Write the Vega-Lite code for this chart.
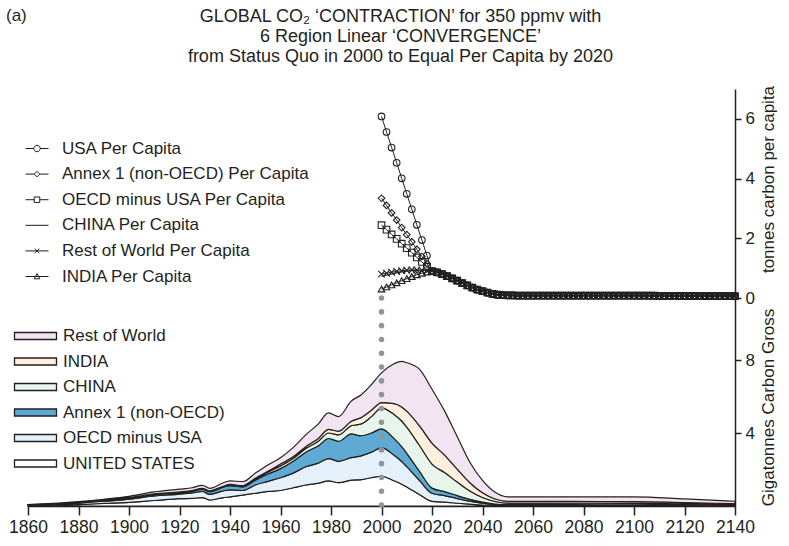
{
 "$schema": "https://vega.github.io/schema/vega-lite/v6.json",
 "autosize": {"type": "pad"},
 "padding": {"left": 6, "top": 7, "right": 5, "bottom": 5},
 "background": "white",
 "title": {"text": "(a)", "anchor": "start", "frame": "group", "font": "Liberation Sans", "fontSize": 17, "fontWeight": "normal", "color": "#231f20", "offset": 0, "dx": -22, "dy": 17},
 "datasets": {
  "pcn": [
   {"code": "USA", "label": "USA Per Capita"},
   {"code": "A1", "label": "Annex 1 (non-OECD) Per Capita"},
   {"code": "OECD", "label": "OECD minus USA Per Capita"},
   {"code": "CHN", "label": "CHINA Per Capita"},
   {"code": "ROW", "label": "Rest of World Per Capita"},
   {"code": "IND", "label": "INDIA Per Capita"}
  ],
  "grn": [
   {"code": "US", "label": "UNITED STATES", "rank": 1},
   {"code": "OECD", "label": "OECD minus USA", "rank": 2},
   {"code": "A1", "label": "Annex 1 (non-OECD)", "rank": 3},
   {"code": "CN", "label": "CHINA", "rank": 4},
   {"code": "IN", "label": "INDIA", "rank": 5},
   {"code": "RoW", "label": "Rest of World", "rank": 6}
  ],
  "pc": [
   {"year": 2000, "USA": 6.08, "A1": 3.34, "OECD": 2.44, "CHN": 0.72, "ROW": 0.80, "IND": 0.30},
   {"year": 2002, "USA": 5.56, "A1": 3.10, "OECD": 2.29, "CHN": 0.76, "ROW": 0.83, "IND": 0.37},
   {"year": 2004, "USA": 5.04, "A1": 2.85, "OECD": 2.13, "CHN": 0.80, "ROW": 0.86, "IND": 0.44},
   {"year": 2006, "USA": 4.53, "A1": 2.61, "OECD": 1.98, "CHN": 0.84, "ROW": 0.89, "IND": 0.51},
   {"year": 2008, "USA": 4.01, "A1": 2.36, "OECD": 1.82, "CHN": 0.87, "ROW": 0.91, "IND": 0.58},
   {"year": 2010, "USA": 3.49, "A1": 2.12, "OECD": 1.67, "CHN": 0.90, "ROW": 0.93, "IND": 0.65},
   {"year": 2012, "USA": 2.97, "A1": 1.88, "OECD": 1.52, "CHN": 0.92, "ROW": 0.94, "IND": 0.72},
   {"year": 2014, "USA": 2.45, "A1": 1.63, "OECD": 1.36, "CHN": 0.93, "ROW": 0.94, "IND": 0.78},
   {"year": 2016, "USA": 1.94, "A1": 1.39, "OECD": 1.21, "CHN": 0.93, "ROW": 0.93, "IND": 0.83},
   {"year": 2018, "USA": 1.42, "A1": 1.14, "OECD": 1.05, "CHN": 0.92, "ROW": 0.92, "IND": 0.87},
   {"year": 2020, "USA": 0.90, "A1": 0.90, "OECD": 0.90, "CHN": 0.90, "ROW": 0.90, "IND": 0.90},
   {"year": 2022, "USA": 0.86, "A1": 0.86, "OECD": 0.86, "CHN": 0.86, "ROW": 0.86, "IND": 0.86},
   {"year": 2024, "USA": 0.80, "A1": 0.80, "OECD": 0.80, "CHN": 0.80, "ROW": 0.80, "IND": 0.80},
   {"year": 2026, "USA": 0.73, "A1": 0.73, "OECD": 0.73, "CHN": 0.73, "ROW": 0.73, "IND": 0.73},
   {"year": 2028, "USA": 0.66, "A1": 0.66, "OECD": 0.66, "CHN": 0.66, "ROW": 0.66, "IND": 0.66},
   {"year": 2030, "USA": 0.58, "A1": 0.58, "OECD": 0.58, "CHN": 0.58, "ROW": 0.58, "IND": 0.58},
   {"year": 2032, "USA": 0.50, "A1": 0.50, "OECD": 0.50, "CHN": 0.50, "ROW": 0.50, "IND": 0.50},
   {"year": 2034, "USA": 0.42, "A1": 0.42, "OECD": 0.42, "CHN": 0.42, "ROW": 0.42, "IND": 0.42},
   {"year": 2036, "USA": 0.35, "A1": 0.35, "OECD": 0.35, "CHN": 0.35, "ROW": 0.35, "IND": 0.35},
   {"year": 2038, "USA": 0.28, "A1": 0.28, "OECD": 0.28, "CHN": 0.28, "ROW": 0.28, "IND": 0.28},
   {"year": 2040, "USA": 0.23, "A1": 0.23, "OECD": 0.23, "CHN": 0.23, "ROW": 0.23, "IND": 0.23},
   {"year": 2042, "USA": 0.18, "A1": 0.18, "OECD": 0.18, "CHN": 0.18, "ROW": 0.18, "IND": 0.18},
   {"year": 2044, "USA": 0.14, "A1": 0.14, "OECD": 0.14, "CHN": 0.14, "ROW": 0.14, "IND": 0.14},
   {"year": 2046, "USA": 0.11, "A1": 0.11, "OECD": 0.11, "CHN": 0.11, "ROW": 0.11, "IND": 0.11},
   {"year": 2048, "USA": 0.095, "A1": 0.095, "OECD": 0.095, "CHN": 0.095, "ROW": 0.095, "IND": 0.095},
   {"year": 2050, "USA": 0.09, "A1": 0.09, "OECD": 0.09, "CHN": 0.09, "ROW": 0.09, "IND": 0.09},
   {"year": 2052, "USA": 0.085, "A1": 0.085, "OECD": 0.085, "CHN": 0.085, "ROW": 0.085, "IND": 0.085},
   {"year": 2054, "USA": 0.08, "A1": 0.08, "OECD": 0.08, "CHN": 0.08, "ROW": 0.08, "IND": 0.08},
   {"year": 2056, "USA": 0.08, "A1": 0.08, "OECD": 0.08, "CHN": 0.08, "ROW": 0.08, "IND": 0.08},
   {"year": 2058, "USA": 0.08, "A1": 0.08, "OECD": 0.08, "CHN": 0.08, "ROW": 0.08, "IND": 0.08},
   {"year": 2060, "USA": 0.08, "A1": 0.08, "OECD": 0.08, "CHN": 0.08, "ROW": 0.08, "IND": 0.08},
   {"year": 2062, "USA": 0.08, "A1": 0.08, "OECD": 0.08, "CHN": 0.08, "ROW": 0.08, "IND": 0.08},
   {"year": 2064, "USA": 0.08, "A1": 0.08, "OECD": 0.08, "CHN": 0.08, "ROW": 0.08, "IND": 0.08},
   {"year": 2066, "USA": 0.08, "A1": 0.08, "OECD": 0.08, "CHN": 0.08, "ROW": 0.08, "IND": 0.08},
   {"year": 2068, "USA": 0.08, "A1": 0.08, "OECD": 0.08, "CHN": 0.08, "ROW": 0.08, "IND": 0.08},
   {"year": 2070, "USA": 0.08, "A1": 0.08, "OECD": 0.08, "CHN": 0.08, "ROW": 0.08, "IND": 0.08},
   {"year": 2072, "USA": 0.08, "A1": 0.08, "OECD": 0.08, "CHN": 0.08, "ROW": 0.08, "IND": 0.08},
   {"year": 2074, "USA": 0.08, "A1": 0.08, "OECD": 0.08, "CHN": 0.08, "ROW": 0.08, "IND": 0.08},
   {"year": 2076, "USA": 0.08, "A1": 0.08, "OECD": 0.08, "CHN": 0.08, "ROW": 0.08, "IND": 0.08},
   {"year": 2078, "USA": 0.08, "A1": 0.08, "OECD": 0.08, "CHN": 0.08, "ROW": 0.08, "IND": 0.08},
   {"year": 2080, "USA": 0.08, "A1": 0.08, "OECD": 0.08, "CHN": 0.08, "ROW": 0.08, "IND": 0.08},
   {"year": 2082, "USA": 0.08, "A1": 0.08, "OECD": 0.08, "CHN": 0.08, "ROW": 0.08, "IND": 0.08},
   {"year": 2084, "USA": 0.08, "A1": 0.08, "OECD": 0.08, "CHN": 0.08, "ROW": 0.08, "IND": 0.08},
   {"year": 2086, "USA": 0.08, "A1": 0.08, "OECD": 0.08, "CHN": 0.08, "ROW": 0.08, "IND": 0.08},
   {"year": 2088, "USA": 0.08, "A1": 0.08, "OECD": 0.08, "CHN": 0.08, "ROW": 0.08, "IND": 0.08},
   {"year": 2090, "USA": 0.08, "A1": 0.08, "OECD": 0.08, "CHN": 0.08, "ROW": 0.08, "IND": 0.08},
   {"year": 2092, "USA": 0.08, "A1": 0.08, "OECD": 0.08, "CHN": 0.08, "ROW": 0.08, "IND": 0.08},
   {"year": 2094, "USA": 0.08, "A1": 0.08, "OECD": 0.08, "CHN": 0.08, "ROW": 0.08, "IND": 0.08},
   {"year": 2096, "USA": 0.08, "A1": 0.08, "OECD": 0.08, "CHN": 0.08, "ROW": 0.08, "IND": 0.08},
   {"year": 2098, "USA": 0.08, "A1": 0.08, "OECD": 0.08, "CHN": 0.08, "ROW": 0.08, "IND": 0.08},
   {"year": 2100, "USA": 0.08, "A1": 0.08, "OECD": 0.08, "CHN": 0.08, "ROW": 0.08, "IND": 0.08},
   {"year": 2102, "USA": 0.079, "A1": 0.079, "OECD": 0.079, "CHN": 0.079, "ROW": 0.079, "IND": 0.079},
   {"year": 2104, "USA": 0.078, "A1": 0.078, "OECD": 0.078, "CHN": 0.078, "ROW": 0.078, "IND": 0.078},
   {"year": 2106, "USA": 0.077, "A1": 0.077, "OECD": 0.077, "CHN": 0.077, "ROW": 0.077, "IND": 0.077},
   {"year": 2108, "USA": 0.076, "A1": 0.076, "OECD": 0.076, "CHN": 0.076, "ROW": 0.076, "IND": 0.076},
   {"year": 2110, "USA": 0.075, "A1": 0.075, "OECD": 0.075, "CHN": 0.075, "ROW": 0.075, "IND": 0.075},
   {"year": 2112, "USA": 0.074, "A1": 0.074, "OECD": 0.074, "CHN": 0.074, "ROW": 0.074, "IND": 0.074},
   {"year": 2114, "USA": 0.073, "A1": 0.073, "OECD": 0.073, "CHN": 0.073, "ROW": 0.073, "IND": 0.073},
   {"year": 2116, "USA": 0.072, "A1": 0.072, "OECD": 0.072, "CHN": 0.072, "ROW": 0.072, "IND": 0.072},
   {"year": 2118, "USA": 0.071, "A1": 0.071, "OECD": 0.071, "CHN": 0.071, "ROW": 0.071, "IND": 0.071},
   {"year": 2120, "USA": 0.07, "A1": 0.07, "OECD": 0.07, "CHN": 0.07, "ROW": 0.07, "IND": 0.07},
   {"year": 2122, "USA": 0.069, "A1": 0.069, "OECD": 0.069, "CHN": 0.069, "ROW": 0.069, "IND": 0.069},
   {"year": 2124, "USA": 0.068, "A1": 0.068, "OECD": 0.068, "CHN": 0.068, "ROW": 0.068, "IND": 0.068},
   {"year": 2126, "USA": 0.067, "A1": 0.067, "OECD": 0.067, "CHN": 0.067, "ROW": 0.067, "IND": 0.067},
   {"year": 2128, "USA": 0.066, "A1": 0.066, "OECD": 0.066, "CHN": 0.066, "ROW": 0.066, "IND": 0.066},
   {"year": 2130, "USA": 0.065, "A1": 0.065, "OECD": 0.065, "CHN": 0.065, "ROW": 0.065, "IND": 0.065},
   {"year": 2132, "USA": 0.064, "A1": 0.064, "OECD": 0.064, "CHN": 0.064, "ROW": 0.064, "IND": 0.064},
   {"year": 2134, "USA": 0.063, "A1": 0.063, "OECD": 0.063, "CHN": 0.063, "ROW": 0.063, "IND": 0.063},
   {"year": 2136, "USA": 0.062, "A1": 0.062, "OECD": 0.062, "CHN": 0.062, "ROW": 0.062, "IND": 0.062},
   {"year": 2138, "USA": 0.061, "A1": 0.061, "OECD": 0.061, "CHN": 0.061, "ROW": 0.061, "IND": 0.061},
   {"year": 2140, "USA": 0.06, "A1": 0.06, "OECD": 0.06, "CHN": 0.06, "ROW": 0.06, "IND": 0.06}
  ],
  "gr": [
   {"year": 1860, "US": 0.02, "OECD": 0.03, "A1": 0.01, "CN": 0.005, "IN": 0.005, "RoW": 0.01},
   {"year": 1870, "US": 0.04, "OECD": 0.05, "A1": 0.01, "CN": 0.01, "IN": 0.01, "RoW": 0.02},
   {"year": 1880, "US": 0.08, "OECD": 0.08, "A1": 0.02, "CN": 0.01, "IN": 0.01, "RoW": 0.04},
   {"year": 1890, "US": 0.14, "OECD": 0.12, "A1": 0.03, "CN": 0.01, "IN": 0.02, "RoW": 0.05},
   {"year": 1900, "US": 0.20, "OECD": 0.18, "A1": 0.05, "CN": 0.01, "IN": 0.02, "RoW": 0.07},
   {"year": 1910, "US": 0.30, "OECD": 0.25, "A1": 0.07, "CN": 0.02, "IN": 0.02, "RoW": 0.11},
   {"year": 1920, "US": 0.40, "OECD": 0.25, "A1": 0.07, "CN": 0.02, "IN": 0.03, "RoW": 0.15},
   {"year": 1925, "US": 0.42, "OECD": 0.30, "A1": 0.08, "CN": 0.02, "IN": 0.03, "RoW": 0.15},
   {"year": 1929, "US": 0.46, "OECD": 0.34, "A1": 0.12, "CN": 0.02, "IN": 0.03, "RoW": 0.16},
   {"year": 1932, "US": 0.33, "OECD": 0.31, "A1": 0.14, "CN": 0.02, "IN": 0.03, "RoW": 0.14},
   {"year": 1937, "US": 0.45, "OECD": 0.37, "A1": 0.20, "CN": 0.02, "IN": 0.03, "RoW": 0.18},
   {"year": 1940, "US": 0.50, "OECD": 0.38, "A1": 0.24, "CN": 0.03, "IN": 0.03, "RoW": 0.20},
   {"year": 1945, "US": 0.60, "OECD": 0.25, "A1": 0.20, "CN": 0.03, "IN": 0.04, "RoW": 0.21},
   {"year": 1950, "US": 0.70, "OECD": 0.45, "A1": 0.27, "CN": 0.05, "IN": 0.05, "RoW": 0.28},
   {"year": 1955, "US": 0.80, "OECD": 0.55, "A1": 0.40, "CN": 0.10, "IN": 0.05, "RoW": 0.35},
   {"year": 1960, "US": 0.85, "OECD": 0.70, "A1": 0.50, "CN": 0.15, "IN": 0.10, "RoW": 0.35},
   {"year": 1965, "US": 1.00, "OECD": 0.80, "A1": 0.65, "CN": 0.15, "IN": 0.10, "RoW": 0.50},
   {"year": 1970, "US": 1.15, "OECD": 1.00, "A1": 0.80, "CN": 0.20, "IN": 0.10, "RoW": 0.65},
   {"year": 1975, "US": 1.25, "OECD": 1.10, "A1": 0.95, "CN": 0.25, "IN": 0.15, "RoW": 0.80},
   {"year": 1979, "US": 1.38, "OECD": 1.22, "A1": 1.10, "CN": 0.30, "IN": 0.20, "RoW": 0.90},
   {"year": 1983, "US": 1.28, "OECD": 1.17, "A1": 1.10, "CN": 0.35, "IN": 0.20, "RoW": 0.80},
   {"year": 1988, "US": 1.42, "OECD": 1.23, "A1": 1.30, "CN": 0.45, "IN": 0.25, "RoW": 1.10},
   {"year": 1992, "US": 1.45, "OECD": 1.30, "A1": 1.10, "CN": 0.65, "IN": 0.35, "RoW": 1.25},
   {"year": 1996, "US": 1.55, "OECD": 1.40, "A1": 1.05, "CN": 0.90, "IN": 0.35, "RoW": 1.40},
   {"year": 2000, "US": 1.63, "OECD": 1.57, "A1": 1.03, "CN": 1.15, "IN": 0.29, "RoW": 1.63},
   {"year": 2005, "US": 1.38, "OECD": 1.40, "A1": 0.91, "CN": 1.33, "IN": 0.59, "RoW": 2.19},
   {"year": 2008, "US": 1.19, "OECD": 1.25, "A1": 0.81, "CN": 1.41, "IN": 0.77, "RoW": 2.50},
   {"year": 2010, "US": 1.04, "OECD": 1.12, "A1": 0.73, "CN": 1.43, "IN": 0.88, "RoW": 2.65},
   {"year": 2015, "US": 0.63, "OECD": 0.78, "A1": 0.50, "CN": 1.42, "IN": 1.07, "RoW": 3.10},
   {"year": 2020, "US": 0.25, "OECD": 0.45, "A1": 0.28, "CN": 1.32, "IN": 1.15, "RoW": 2.95},
   {"year": 2025, "US": 0.21, "OECD": 0.36, "A1": 0.22, "CN": 1.04, "IN": 0.96, "RoW": 2.41},
   {"year": 2030, "US": 0.15, "OECD": 0.26, "A1": 0.16, "CN": 0.74, "IN": 0.71, "RoW": 1.78},
   {"year": 2035, "US": 0.10, "OECD": 0.165, "A1": 0.10, "CN": 0.46, "IN": 0.45, "RoW": 1.125},
   {"year": 2040, "US": 0.056, "OECD": 0.095, "A1": 0.057, "CN": 0.26, "IN": 0.26, "RoW": 0.672},
   {"year": 2045, "US": 0.03, "OECD": 0.05, "A1": 0.03, "CN": 0.135, "IN": 0.14, "RoW": 0.365},
   {"year": 2050, "US": 0.02, "OECD": 0.033, "A1": 0.018, "CN": 0.088, "IN": 0.093, "RoW": 0.248},
   {"year": 2075, "US": 0.02, "OECD": 0.032, "A1": 0.018, "CN": 0.085, "IN": 0.094, "RoW": 0.251},
   {"year": 2100, "US": 0.02, "OECD": 0.032, "A1": 0.017, "CN": 0.08, "IN": 0.095, "RoW": 0.256},
   {"year": 2120, "US": 0.015, "OECD": 0.025, "A1": 0.013, "CN": 0.06, "IN": 0.075, "RoW": 0.2},
   {"year": 2140, "US": 0.01, "OECD": 0.017, "A1": 0.009, "CN": 0.04, "IN": 0.05, "RoW": 0.134}
  ]
 },
 "spacing": 0,
 "bounds": "flush",
 "vconcat": [
  {
   "width": 707,
   "height": 209,
   "title": {"text": ["GLOBAL CO₂ ‘CONTRACTION’ for 350 ppmv with", "6 Region Linear ‘CONVERGENCE’", "from Status Quo in 2000 to Equal Per Capita by 2020"], "anchor": "middle", "frame": "group", "font": "Liberation Sans", "fontSize": 18, "fontWeight": "normal", "lineHeight": 20, "offset": 19, "dx": 19, "color": "#231f20"},
   "encoding": {
    "x": {"field": "year", "type": "quantitative", "scale": {"domain": [1860, 2140], "nice": false, "zero": false}, "axis": null},
    "y": {"field": "tc", "type": "quantitative", "scale": {"domain": [0, 7], "nice": false, "zero": false},
          "axis": {"orient": "right", "values": [0, 2, 4, 6], "title": "tonnes carbon per capita", "titleAngle": 270, "titleX": 33, "titleY": 90, "titleAlign": "center", "titleBaseline": "middle", "titleFontSize": 17, "tickSize": 6, "labelFontSize": 17, "labelPadding": 4}}
   },
   "layer": [
    {
     "data": {"values": [{"year": 2000}]},
     "mark": {"type": "rule", "color": "#8c969e", "strokeWidth": 5.5, "strokeCap": "round", "strokeDash": [0.1, 13.7]},
     "encoding": {"y": {"datum": 0, "type": "quantitative"}, "y2": {"datum": 6.4}}
    },
    {
     "data": {"name": "pc"},
     "transform": [{"fold": ["USA", "A1", "OECD", "CHN", "ROW", "IND"], "as": ["code", "tc"]}, {"lookup": "code", "from": {"data": {"name": "pcn"}, "key": "code", "fields": ["label"]}}],
     "mark": {"type": "line", "color": "#231f20", "strokeWidth": 1},
     "encoding": {"detail": {"field": "label", "type": "nominal"}}
    },
    {
     "data": {"name": "pc"},
     "transform": [{"fold": ["USA", "A1", "OECD", "CHN", "ROW", "IND"], "as": ["code", "tc"]}, {"lookup": "code", "from": {"data": {"name": "pcn"}, "key": "code", "fields": ["label"]}}],
     "mark": {"type": "point", "filled": false, "color": "#231f20", "strokeWidth": 1.1, "size": 44, "opacity": 1},
     "encoding": {"shape": {"field": "label", "type": "nominal", "legend": null,
       "scale": {"domain": ["USA Per Capita", "Annex 1 (non-OECD) Per Capita", "OECD minus USA Per Capita", "CHINA Per Capita", "Rest of World Per Capita", "INDIA Per Capita"],
                 "range": ["circle", "diamond", "square", "M0,0Z", "M-1,-1L1,1M-1,1L1,-1", "triangle-up"]}}}
    },
    {
     "data": {"name": "pcn"},
     "transform": [{"filter": "false"}],
     "mark": {"type": "point", "filled": false, "color": "#231f20", "strokeWidth": 1, "size": 529, "opacity": 1},
     "encoding": {"shape": {"field": "label", "type": "nominal",
       "scale": {"domain": ["USA Per Capita", "Annex 1 (non-OECD) Per Capita", "OECD minus USA Per Capita", "CHINA Per Capita", "Rest of World Per Capita", "INDIA Per Capita"],
                 "range": ["M-1,0H-0.28M0.28,0H1M0.28,0A0.28,0.28 0 1 1 -0.28,0A0.28,0.28 0 1 1 0.28,0", "M-1,0H-0.24M0.24,0H1M0,-0.24L0.24,0L0,0.24L-0.24,0Z", "M-1,0H-0.24M0.24,0H1M-0.24,-0.24H0.24V0.24H-0.24Z", "M-1,0H1", "M-1,0H1M-0.2,-0.2L0.2,0.2M-0.2,0.2L0.2,-0.2", "M-1,0H1M-0.25,0.2L0,-0.25L0.25,0.2Z"]},
       "legend": {"orient": "none", "legendX": -3, "legendY": 47.5, "title": null, "padding": 0, "labelFont": "Liberation Sans", "labelFontSize": 17, "labelColor": "#231f20", "labelOffset": 13, "symbolSize": 529, "symbolStrokeWidth": 1, "symbolStrokeColor": "#231f20", "symbolFillColor": "transparent", "rowPadding": 5.6, "symbolOffset": 0, "labelLimit": 400}}}
    }
   ],
   "resolve": {"scale": {"shape": "independent"}}
  },
  {
   "width": 707,
   "height": 208,
   "encoding": {
    "x": {"field": "year", "type": "quantitative", "scale": {"domain": [1860, 2140], "nice": false, "zero": false},
          "axis": {"orient": "bottom", "values": [1860, 1880, 1900, 1920, 1940, 1960, 1980, 2000, 2020, 2040, 2060, 2080, 2100, 2120, 2140], "format": "d", "title": null, "labelFont": "Liberation Sans", "labelFontSize": 17.5, "tickSize": 9, "labelPadding": 3, "labelOverlap": false, "labelFlush": false}}
   },
   "layer": [
    {
     "data": {"name": "gr"},
     "transform": [{"fold": ["US", "OECD", "A1", "CN", "IN", "RoW"], "as": ["code", "gt"]}, {"lookup": "code", "from": {"data": {"name": "grn"}, "key": "code", "fields": ["label", "rank"]}}],
     "mark": {"type": "area", "stroke": "#231f20", "strokeWidth": 1.2, "interpolate": "monotone", "opacity": 1},
     "encoding": {
      "y": {"field": "gt", "type": "quantitative", "stack": "zero", "scale": {"domain": [0, 11.4], "nice": false, "zero": false},
            "axis": {"orient": "right", "values": [4, 8], "title": "Gigatonnes Carbon Gross", "titleAngle": 270, "titleX": 33, "titleY": 109, "titleAlign": "center", "titleBaseline": "middle", "titleFontSize": 17, "tickSize": 6, "labelFontSize": 17, "labelPadding": 4}},
      "fill": {"field": "label", "type": "nominal",
       "scale": {"domain": ["Rest of World", "INDIA", "CHINA", "Annex 1 (non-OECD)", "OECD minus USA", "UNITED STATES"], "range": ["#f2e4f1", "#fdf0df", "#e7f5ea", "#5eaad3", "#e4f0fa", "#ffffff"]},
       "legend": {"orient": "none", "legendX": -1, "legendY": 29.5, "title": null, "padding": 0, "labelFont": "Liberation Sans", "labelFontSize": 17, "labelColor": "#231f20", "labelOffset": 19, "symbolSize": 100, "symbolType": "M-4.2,-0.7H4.2V0.7H-4.2Z", "symbolStrokeColor": "#231f20", "symbolStrokeWidth": 1.3, "rowPadding": 7.5, "symbolOffset": 0, "labelLimit": 400}},
      "order": {"field": "rank", "type": "quantitative", "sort": "ascending"}
     }
    },
    {
     "data": {"values": [{"year": 2000}]},
     "mark": {"type": "rule", "color": "#8c969e", "strokeWidth": 5.5, "strokeCap": "round", "strokeDash": [0.1, 13.7]},
     "encoding": {}
    }
   ]
  }
 ],
 "resolve": {"scale": {"shape": "independent", "fill": "independent"}},
 "config": {
  "view": {"stroke": null},
  "font": "Liberation Sans",
  "axis": {"domainColor": "#231f20", "domainWidth": 1.5, "tickColor": "#231f20", "tickWidth": 1.5, "labelColor": "#231f20", "titleColor": "#231f20", "grid": false, "labelFont": "Liberation Sans", "titleFont": "Liberation Sans", "titleFontWeight": "normal"}
 }
}
